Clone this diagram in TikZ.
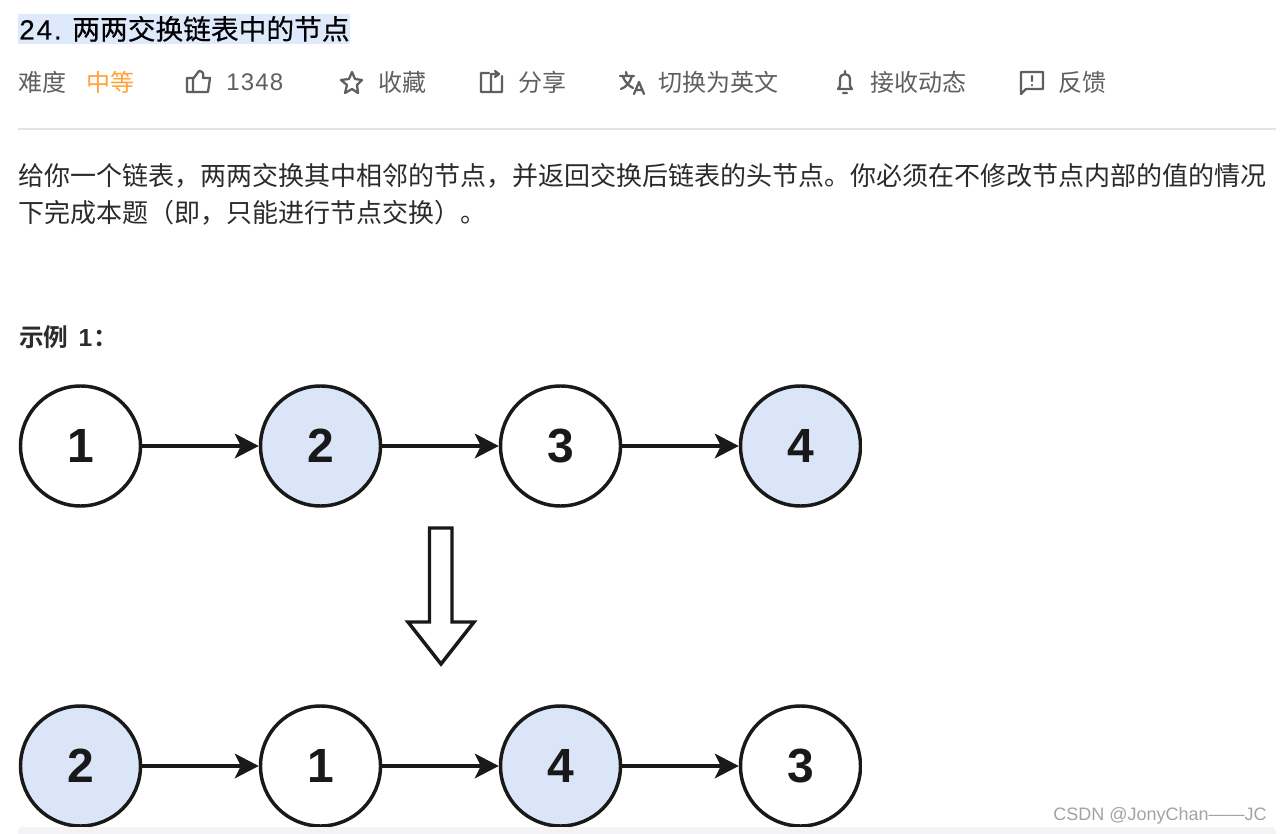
\documentclass[tikz,border=0pt]{standalone}
\usepackage{fontspec}
\setmainfont{Liberation Sans}
\newfontfamily\cjk{Noto Sans CJK SC}
\newfontfamily\cjkt{Noto Sans CJK SC}[FakeBold=0.35]
\newfontfamily\latt{Liberation Sans}[FakeBold=0.35,LetterSpace=7]
\newfontfamily\latl{Liberation Sans}[LetterSpace=5]
\newfontfamily\cjkb{Noto Sans CJK SC}[BoldFont={Noto Sans CJK SC Bold}]
\usetikzlibrary{arrows.meta}
\definecolor{hl}{HTML}{DFE9FC}
\definecolor{nodeblue}{HTML}{DAE6F8}
\definecolor{txtgray}{HTML}{5F5F5F}
\definecolor{bodytxt}{HTML}{2B2B2B}
\definecolor{orangetxt}{HTML}{FFA339}
\definecolor{rulegray}{HTML}{E4E4E4}
\definecolor{bandgray}{HTML}{F3F3F5}
\definecolor{wm}{HTML}{A3A3A3}
\tikzset{
 x=0.75pt,y=-0.75pt,
 listnode/.style={circle,draw=black!90,line width=2.6pt,minimum size=90pt,inner sep=0pt,font=\fontsize{36}{36}\selectfont\bfseries,text=black!90,fill=white},
 swapnode/.style={listnode,fill=nodeblue},
 link/.style={draw=black!90,line width=2.4pt,-{Stealth[length=18pt,width=18.5pt,inset=4.5pt]}},
 bar/.style={anchor=base west,inner sep=0pt,text=txtgray,font=\cjk\fontsize{18}{18}\selectfont},
 para/.style={anchor=base west,inner sep=0pt,text=bodytxt,font=\cjk\fontsize{19.5}{19.5}\selectfont},
 icon/.style={draw=txtgray,line width=1.7pt,line join=round,line cap=round},
}
\begin{document}
\begin{tikzpicture}
\useasboundingbox (0,0) rectangle (1282,834);
\fill[white] (0,0) rectangle (1282,834);
% title
\fill[hl] (18,14) rectangle (350,44);
\node[anchor=base west,inner sep=0pt,text=black,font=\latt\fontsize{20.8}{20.8}\selectfont] (title) at (19,39.5) {24.};
\node[anchor=base west,inner sep=0pt,text=black,font=\cjkt\fontsize{20.8}{20.8}\selectfont] (titleb) at (72,39.5) {两两交换链表中的节点};
% toolbar
\node[bar] (diff) at (18.5,92) {难度};
\node[bar,text=orangetxt] (mid) at (86.5,92) {中等};
\draw[icon] (187,92) rectangle (193,78) (193,79) -- (199,71) .. controls (203,71) and (204,74) .. (203,78) -- (210,78) -- (208,92) -- (193,92);
\node[bar,font=\latl\fontsize{18}{18}\selectfont] (likes) at (226,90.5) {1348};
\draw[icon] (352,72) -- (355,79) -- (362,80) -- (357,85) -- (358,93) -- (352,89) -- (345,93) -- (347,85) -- (341,80) -- (349,79) -- cycle;
\node[bar] (fav) at (378.5,92) {收藏};
\draw[icon] (489,73) -- (481,73) -- (481,92) -- (502,92) -- (502,76) (491,92) -- (491,74) -- (498,74) (495,71) -- (499,74) -- (495,77);
\node[bar] (share) at (518.5,92) {分享};
\draw[icon] (620,76) -- (634,76) (626,72) -- (627,76) (632,76) .. controls (630,83) and (626,87) .. (621,89) (623,77) .. controls (625,82) and (629,86) .. (633,88) (634,94) -- (639,82) -- (644,94) (636,90) -- (642,90);
\node[bar] (en) at (658.5,92) {切换为英文};
\draw[icon] (838,89) -- (840,86) -- (840,80) .. controls (840,76) and (842,74) .. (845,74) .. controls (848,74) and (850,76) .. (850,80) -- (850,86) -- (852,89) -- cycle (845,71) -- (845,73) (843,93) -- (847,93);
\node[bar] (recv) at (870,92) {接收动态};
\draw[icon] (1021,94) -- (1021,72) -- (1043,72) -- (1043,89) -- (1026,89) -- cycle (1032,76) -- (1032,81) (1032,85) -- (1032,85.2);
\node[bar] (fb) at (1058.5,92) {反馈};
\fill[rulegray] (18,128) rectangle (1276,130);
% paragraph
\node[para] (p1) at (18.5,185.5) {给你一个链表，两两交换其中相邻的节点，并返回交换后链表的头节点。你必须在不修改节点内部的值的情况};
\node[para] (p2) at (18.5,222.5) {下完成本题（即，只能进行节点交换）。};
\node[anchor=base west,inner sep=0pt,text=bodytxt,font=\cjkb\bfseries\fontsize{18.5}{18.5}\selectfont] (ex) at (19,347) {示例\kern7.5pt{\rmfamily\bfseries 1}\kern1pt：};
% top list
\node[listnode] (a1) at (80.5,446) {1};
\node[swapnode] (a2) at (320.5,446) {2};
\node[listnode] (a3) at (560.5,446) {3};
\node[swapnode] (a4) at (800.5,446) {4};
\draw[link] (a1) -- (a2);
\draw[link] (a2) -- (a3);
\draw[link] (a3) -- (a4);
% hollow arrow
\draw[black!90,line width=2.6pt,fill=white,line join=miter] (429.5,528) -- (452,528) -- (452,622) -- (474,622) -- (441,664) -- (408,622) -- (429.5,622) -- cycle;
% bottom list
\node[swapnode] (b1) at (80.5,766) {2};
\node[listnode] (b2) at (320.5,766) {1};
\node[swapnode] (b3) at (560.5,766) {4};
\node[listnode] (b4) at (800.5,766) {3};
\draw[link] (b1) -- (b2);
\draw[link] (b2) -- (b3);
\draw[link] (b3) -- (b4);
% clip right edge of image column, bottom band and watermark
\fill[white] (861.5,380) rectangle (880,830);
\fill[white] (0,827) rectangle (1282,834);
\fill[bandgray,rounded corners=3pt] (18,827) rectangle (1276,838);
\fill[white] (0,834) rectangle (1282,840);
\node[anchor=base east,inner sep=0pt,text=wm,font=\fontsize{13.5}{13.5}\selectfont] (mark) at (1267,820) {CSDN @JonyChan——JC};
\end{tikzpicture}
\end{document}
